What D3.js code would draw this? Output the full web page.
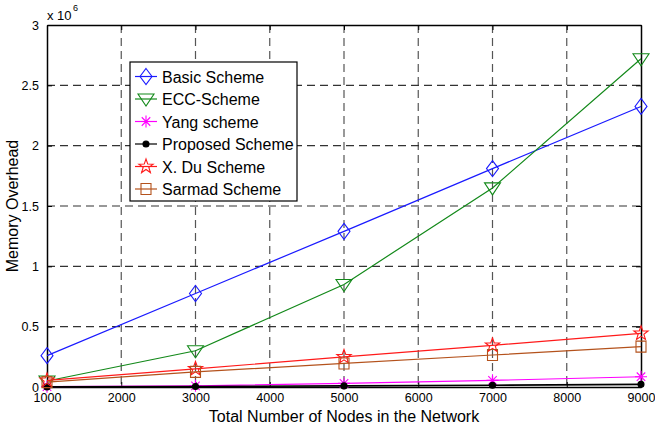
<!DOCTYPE html>
<html>
<head>
<meta charset="utf-8">
<script src="https://cdn.jsdelivr.net/npm/d3@7"></script>
<style>
  body { margin: 0; background: #fff; }
  text { font-family: Arial, "Liberation Sans", Helvetica, sans-serif; }
</style>
</head>
<body>
<svg id="svg1" width="655" height="428"></svg>
<script>
var nodes = [1000, 3000, 5000, 7000, 9000];
var basicScheme    = [0.26e6, 0.775e6, 1.29e6, 1.81e6, 2.325e6];
var eccScheme      = [0.05e6, 0.30e6, 0.85e6, 1.65e6, 2.72e6];
var yangScheme     = [0.003e6, 0.01e6, 0.03e6, 0.055e6, 0.085e6];
var proposedScheme = [0.001e6, 0.004e6, 0.009e6, 0.015e6, 0.022e6];
var duScheme       = [0.055e6, 0.15e6, 0.25e6, 0.345e6, 0.445e6];
var sarmadScheme   = [0.04e6, 0.125e6, 0.195e6, 0.265e6, 0.335e6];
var xTicks = [1000, 2000, 3000, 4000, 5000, 6000, 7000, 8000, 9000];
var yTicks = [0, 0.5e6, 1e6, 1.5e6, 2e6, 2.5e6, 3e6];
var yTickLabels = ['0', '0.5', '1', '1.5', '2', '2.5', '3'];

var series = [
    {name: 'Basic Scheme',    values: basicScheme,    color: '#1a1aff', marker: 'diamond'},
    {name: 'ECC-Scheme',      values: eccScheme,      color: '#13891a', marker: 'triangle'},
    {name: 'Yang scheme',     values: yangScheme,     color: '#ff00ff', marker: 'asterisk'},
    {name: 'Proposed Scheme', values: proposedScheme, color: '#000000', marker: 'dot'},
    {name: 'X. Du Scheme',    values: duScheme,       color: '#ff1a1a', marker: 'star'},
    {name: 'Sarmad Scheme',   values: sarmadScheme,   color: '#b4521c', marker: 'square'}
];

var svg = d3.select('#svg1');
var plotLeft = 47, plotRight = 641, plotTop = 25, plotBottom = 387;

var xScale = d3.scaleLinear().domain([1000, 9000]).range([plotLeft, plotRight]);
var yScale = d3.scaleLinear().domain([0, 3e6]).range([plotBottom, plotTop]);

function markerPath(type){
    var p = d3.path();
    switch(type){
        case 'diamond':
            p.moveTo(0, -8); p.lineTo(6, 0); p.lineTo(0, 8); p.lineTo(-6, 0); p.closePath();
            break;
        case 'triangle':
            p.moveTo(-8, -5); p.lineTo(8, -5); p.lineTo(0, 7); p.closePath();
            break;
        case 'square':
            p.rect(-5, -5.5, 10, 11);
            break;
        case 'asterisk':
            for (var k = 0; k < 4; k++){
                var a = k * Math.PI / 4;
                p.moveTo(-6 * Math.cos(a), -6 * Math.sin(a));
                p.lineTo(6 * Math.cos(a), 6 * Math.sin(a));
            }
            break;
        case 'star':
            for (var j = 0; j < 10; j++){
                var r = (j % 2 == 0) ? 7.5 : 3;
                var ang = -Math.PI / 2 + j * Math.PI / 5;
                if (j == 0) p.moveTo(r * Math.cos(ang), r * Math.sin(ang));
                else p.lineTo(r * Math.cos(ang), r * Math.sin(ang));
            }
            p.closePath();
            break;
        case 'dot':
            p.arc(0, 0, 3, 0, 2 * Math.PI);
            break;
    }
    return p.toString();
}

// grid
var grid = svg.append('g');
grid.selectAll('line.vx').data(xTicks.slice(1, -1)).enter().append('line')
    .attr('x1', function(d){ return xScale(d); })
    .attr('x2', function(d){ return xScale(d); })
    .attr('y1', plotTop).attr('y2', plotBottom)
    .attr('stroke', '#555').attr('stroke-width', 1.2)
    .attr('stroke-dasharray', '8,5');
grid.selectAll('line.hy').data(yTicks.slice(1, -1)).enter().append('line')
    .attr('x1', plotLeft).attr('x2', plotRight)
    .attr('y1', function(d){ return yScale(d); })
    .attr('y2', function(d){ return yScale(d); })
    .attr('stroke', '#333').attr('stroke-width', 1.2)
    .attr('stroke-dasharray', '8,5');

// axes
var xAxis = d3.axisBottom(xScale).tickValues(xTicks).tickSizeInner(-5).tickSizeOuter(0).tickPadding(6)
    .tickFormat(d3.format('d'));
var yAxis = d3.axisLeft(yScale).tickValues(yTicks).tickSizeInner(-5).tickSizeOuter(0).tickPadding(8)
    .tickFormat(function(d, i){ return yTickLabels[i]; });

var gx = svg.append('g').attr('transform', 'translate(0,' + plotBottom + ')').call(xAxis);
var gy = svg.append('g').attr('transform', 'translate(' + plotLeft + ',0)').call(yAxis);
svg.append('g').attr('transform', 'translate(0,' + plotTop + ')')
    .call(d3.axisTop(xScale).tickValues(xTicks).tickSizeInner(-5).tickSizeOuter(0).tickFormat(''));
svg.append('g').attr('transform', 'translate(' + plotRight + ',0)')
    .call(d3.axisRight(yScale).tickValues(yTicks).tickSizeInner(-5).tickSizeOuter(0).tickFormat(''));
svg.selectAll('.domain').attr('stroke', '#000').attr('stroke-width', 1.5);
svg.selectAll('.tick line').attr('stroke', '#000');
svg.selectAll('.tick text').attr('font-size', 12.5).attr('fill', '#000')
    .style('font-family', 'Arial, "Liberation Sans", sans-serif');
gx.selectAll('.tick text').attr('dy', '0.71em');

svg.append('text').attr('x', 47).attr('y', 20).attr('font-size', 13).text('x 10');
svg.append('text').attr('x', 73).attr('y', 11).attr('font-size', 9).text('6');

svg.append('text')
    .attr('x', (plotLeft + plotRight) / 2).attr('y', 422)
    .attr('text-anchor', 'middle').attr('font-size', 16)
    .text('Total Number of Nodes in the Network');
svg.append('text')
    .attr('transform', 'translate(18,' + ((plotTop + plotBottom) / 2) + ') rotate(-90)')
    .attr('text-anchor', 'middle').attr('font-size', 16)
    .text('Memory Overhead');

// lines + markers
var line = d3.line()
    .x(function(d, i){ return xScale(nodes[i]); })
    .y(function(d){ return yScale(d); });

var plot = svg.append('g');
series.forEach(function(s){
    plot.append('path')
        .attr('d', line(s.values))
        .attr('fill', 'none')
        .attr('stroke', s.color)
        .attr('stroke-width', s.marker == 'dot' ? 1.6 : 1.2);
    plot.selectAll(null).data(s.values).enter().append('path')
        .attr('transform', function(d, i){ return 'translate(' + xScale(nodes[i]) + ',' + yScale(d) + ')'; })
        .attr('d', markerPath(s.marker))
        .attr('fill', s.marker == 'dot' ? s.color : 'none')
        .attr('stroke', s.color)
        .attr('stroke-width', 1.1);
});

// legend
var legend = svg.append('g');
legend.append('rect')
    .attr('x', 130).attr('y', 62).attr('width', 167).attr('height', 139)
    .attr('fill', '#fff').attr('stroke', '#000').attr('stroke-width', 1.2);
var entry = legend.selectAll('g.entry').data(series).enter().append('g')
    .attr('transform', function(d, i){ return 'translate(0,' + (76.5 + i * 22.5) + ')'; });
entry.append('line')
    .attr('x1', 135).attr('x2', 157).attr('y1', 0).attr('y2', 0)
    .attr('stroke', function(d){ return d.color; }).attr('stroke-width', 1.2);
entry.append('path')
    .attr('transform', 'translate(146,0)')
    .attr('d', function(d){ return markerPath(d.marker); })
    .attr('fill', function(d){ return d.marker == 'dot' ? d.color : 'none'; })
    .attr('stroke', function(d){ return d.color; })
    .attr('stroke-width', 1.1);
entry.append('text')
    .attr('x', 162).attr('y', 6)
    .attr('font-size', 16)
    .text(function(d){ return d.name; });
</script>
</body>
</html>
